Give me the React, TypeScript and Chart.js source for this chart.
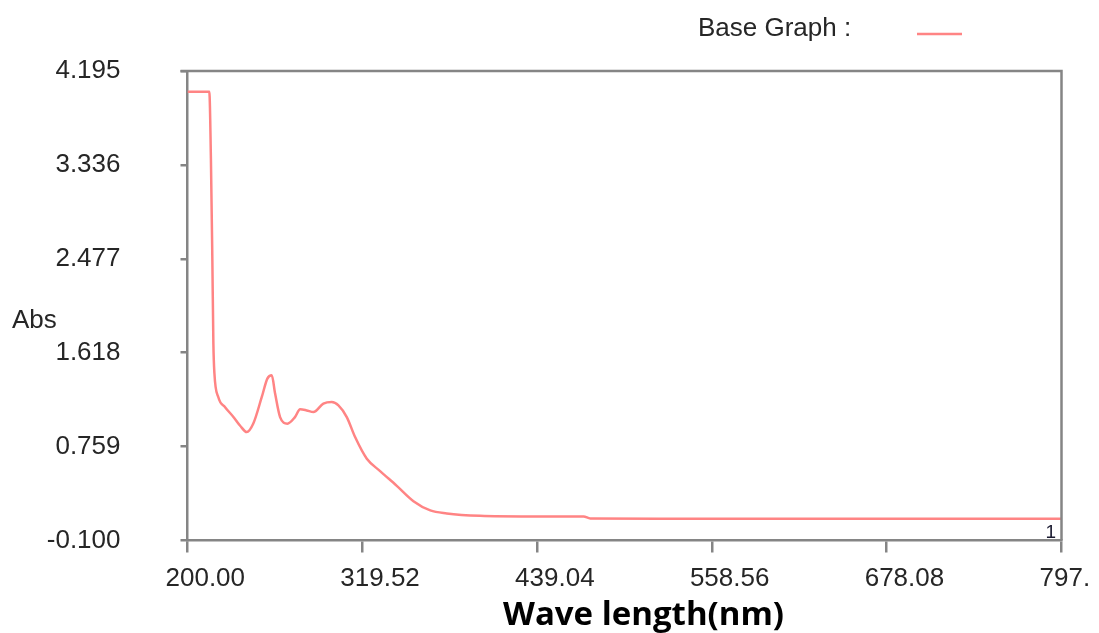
import React, { useEffect, useRef } from "react";
import { Chart, registerables } from "chart.js";

Chart.register(...registerables);

// Wavelength (nm) and absorbance
const wavelengths = [
  200, 214.9, 216.0, 217.0, 217.7, 218.4, 221.1, 225.7, 231.4, 236.0, 240.5,
  245.0, 250.8, 254.6, 257.6, 259.9, 263.3, 268.3, 273.5, 277.0, 281.5, 286.1,
  292.9, 298.6, 303.2, 308.9, 314.6, 322.6, 331.7, 343.1, 354.5, 366.0, 377.3,
  400.0, 434.0, 470.8, 475.4, 537.0, 650.0, 797.6,
];
const absorbance = [
  4.005, 4.005, 3.4, 2.46, 1.7, 1.43, 1.21, 1.12, 1.03, 0.95, 0.892,
  0.97, 1.213, 1.381, 1.411, 1.244, 1.029, 0.969, 1.029, 1.1, 1.09, 1.075,
  1.152, 1.167, 1.136, 1.029, 0.846, 0.648, 0.535, 0.4, 0.26, 0.175, 0.148,
  0.126, 0.12, 0.12, 0.102, 0.099, 0.099, 0.1,
];

const xTicks = [200, 319.52, 439.04, 558.56, 678.08, 797.6];
const xTickLabels = ["200.00", "319.52", "439.04", "558.56", "678.08", "797."];
const yTicks = [-0.1, 0.759, 1.618, 2.477, 3.336, 4.195];
const yTickLabels = ["-0.100", "0.759", "1.618", "2.477", "3.336", "4.195"];

const seriesLabel = "Base Graph :";
const yTitle = "Abs";
const xTitle = "Wave length(nm)";
const curveTag = "1";

const SANS = "'Liberation Sans', Arial, Helvetica, sans-serif";
const AXIS_COLOR = "#858585";
const LINE_COLOR = "#ff8484";
const TEXT_COLOR = "#262626";

export default function App() {
  const ref = useRef<HTMLCanvasElement>(null);

  useEffect(() => {
    document.body.style.margin = "0";
    document.body.style.overflow = "hidden";
    const canvas = ref.current;
    if (!canvas) return;

    const overlay = {
      id: "overlay",
      afterDraw(chart: any) {
        const ctx = chart.ctx as CanvasRenderingContext2D;
        const a = chart.chartArea;
        ctx.save();
        // top and right frame lines
        ctx.strokeStyle = AXIS_COLOR;
        ctx.lineWidth = 2.5;
        ctx.beginPath();
        ctx.moveTo(a.left - 7, a.top);
        ctx.lineTo(a.right, a.top);
        ctx.lineTo(a.right, a.bottom);
        ctx.stroke();

        // legend
        ctx.fillStyle = TEXT_COLOR;
        ctx.font = `26px ${SANS}`;
        ctx.textAlign = "left";
        ctx.textBaseline = "alphabetic";
        ctx.fillText(seriesLabel, 698, 36);
        ctx.strokeStyle = LINE_COLOR;
        ctx.lineWidth = 2.5;
        ctx.beginPath();
        ctx.moveTo(917, 34);
        ctx.lineTo(962, 34);
        ctx.stroke();

        // y title
        ctx.fillStyle = TEXT_COLOR;
        ctx.font = `26px ${SANS}`;
        ctx.fillText(yTitle, 12, 328);

        // curve tag
        ctx.fillStyle = "#1a1a30";
        ctx.font = `19px ${SANS}`;
        ctx.textAlign = "right";
        ctx.fillText(curveTag, 1056, 538);

        // x title
        ctx.fillStyle = "#000";
        ctx.font = `bold 33px 'Open Sans', ${SANS}`;
        ctx.textAlign = "left";
        ctx.fillText(xTitle, 503, 625);
        ctx.restore();
      },
    };

    const tickFont = { family: SANS, size: 26 };

    const chart = new Chart(canvas, {
      type: "line",
      data: {
        datasets: [
          {
            label: seriesLabel,
            data: wavelengths.map((x, i) => ({ x, y: absorbance[i] })),
            borderColor: LINE_COLOR,
            borderWidth: 2.5,
            pointRadius: 0,
            cubicInterpolationMode: "monotone",
            fill: false,
          },
        ],
      },
      options: {
        responsive: false,
        animation: false,
        layout: { padding: { left: 0, top: 71, right: 37.5, bottom: 0 } },
        plugins: { legend: { display: false }, tooltip: { enabled: false } },
        scales: {
          x: {
            type: "linear",
            min: 200,
            max: 797.6,
            afterBuildTicks: (s: any) => {
              s.ticks = xTicks.map((v) => ({ value: v }));
            },
            afterFit: (s: any) => {
              s.height = 92.5;
              s.paddingLeft = 0;
              s.paddingRight = 0;
            },
            ticks: {
              callback: (_v: any, i: number) => xTickLabels[i],
              align: "start",
              labelOffset: -22,
              padding: 11,
              color: TEXT_COLOR,
              font: tickFont,
              maxRotation: 0,
              autoSkip: false,
            },
            grid: {
              drawOnChartArea: false,
              tickLength: 12,
              color: AXIS_COLOR,
              lineWidth: 2.5,
            },
            border: { color: AXIS_COLOR, width: 2.5 },
          },
          y: {
            type: "linear",
            min: -0.1,
            max: 4.195,
            afterBuildTicks: (s: any) => {
              s.ticks = yTicks.map((v) => ({ value: v }));
            },
            afterFit: (s: any) => {
              s.width = 187.5;
              s.paddingTop = 0;
              s.paddingBottom = 0;
            },
            ticks: {
              callback: (_v: any, i: number) => yTickLabels[i],
              padding: 60,
              color: TEXT_COLOR,
              font: tickFont,
              autoSkip: false,
            },
            grid: {
              drawOnChartArea: false,
              tickLength: 7,
              color: AXIS_COLOR,
              lineWidth: 2.5,
            },
            border: { color: AXIS_COLOR, width: 2.5 },
          },
        },
      },
      plugins: [overlay],
    } as any);

    return () => chart.destroy();
  }, []);

  return <canvas ref={ref} width={1099} height={633} style={{ display: "block" }} />;
}
